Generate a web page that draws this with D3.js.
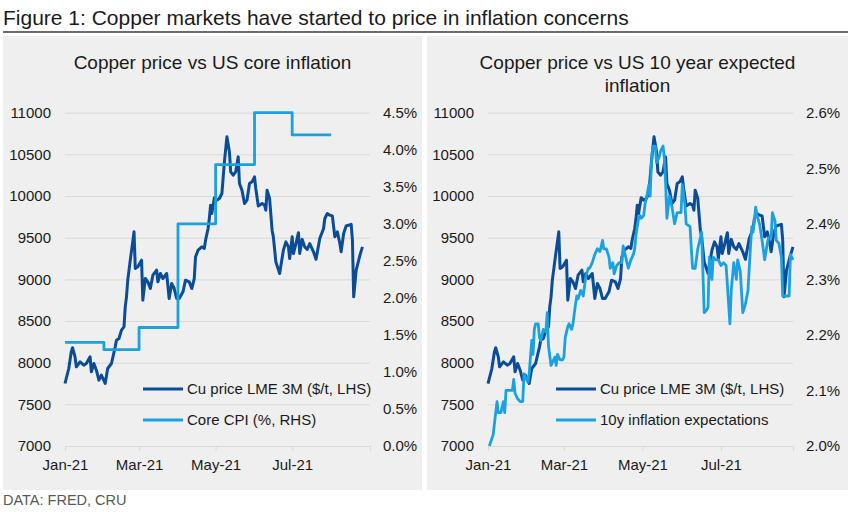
<!DOCTYPE html>
<html>
<head>
<meta charset="utf-8">
<script src="https://cdn.jsdelivr.net/npm/d3@7"></script>
<style>
    body { margin: 0; background: #fff; }
    svg text { font-family: "Liberation Sans", Arial, sans-serif; fill: #1a1a1a; }
</style>
</head>
<body>
<div id="chart"></div>
<script>

// Cu price LME 3M ($/t)
const copperDates = ["2021-01-01","2021-01-04","2021-01-06","2021-01-07","2021-01-09","2021-01-10","2021-01-13","2021-01-16","2021-01-18","2021-01-21",
    "2021-01-22","2021-01-24","2021-01-26","2021-01-28","2021-01-30","2021-02-02","2021-02-04","2021-02-07","2021-02-10","2021-02-11",
    "2021-02-13","2021-02-15","2021-02-17","2021-02-18","2021-02-19","2021-02-20","2021-02-22","2021-02-25","2021-02-26","2021-02-28",
    "2021-03-03","2021-03-04","2021-03-06","2021-03-08","2021-03-10","2021-03-12","2021-03-15","2021-03-16","2021-03-18","2021-03-20",
    "2021-03-23","2021-03-25","2021-03-27","2021-03-29","2021-03-31","2021-04-02","2021-04-05","2021-04-07","2021-04-10","2021-04-12",
    "2021-04-14","2021-04-15","2021-04-17","2021-04-20","2021-04-22","2021-04-23","2021-04-25","2021-04-26","2021-04-27","2021-04-28",
    "2021-04-30","2021-05-02","2021-05-04","2021-05-06","2021-05-08","2021-05-10","2021-05-12","2021-05-13","2021-05-15","2021-05-17",
    "2021-05-19","2021-05-20","2021-05-22","2021-05-24","2021-05-26","2021-05-28","2021-05-30","2021-06-01","2021-06-02","2021-06-04",
    "2021-06-07","2021-06-09","2021-06-10","2021-06-11","2021-06-13","2021-06-15","2021-06-16","2021-06-18","2021-06-21","2021-06-24",
    "2021-06-26","2021-06-28","2021-06-29","2021-07-01","2021-07-02","2021-07-04","2021-07-06","2021-07-07","2021-07-09","2021-07-11",
    "2021-07-13","2021-07-15","2021-07-18","2021-07-20","2021-07-23","2021-07-26","2021-07-27","2021-07-29","2021-07-31","2021-08-02",
    "2021-08-04","2021-08-06","2021-08-08","2021-08-09","2021-08-11","2021-08-13","2021-08-17","2021-08-18","2021-08-19","2021-08-21",
    "2021-08-24","2021-08-26"];
const copperPrice = [7750,7930,8130,8180,8070,7950,8010,7970,7990,8070,
    7890,7990,7910,7790,7850,7750,7930,7990,8190,8270,
    8290,8390,8430,8670,8790,8990,9230,9570,9130,9150,
    9230,8750,9010,8970,8890,9050,9110,8970,9070,9010,
    9070,8770,8950,8890,8770,8770,8850,8990,8970,8890,
    9010,9270,9350,9390,9370,9470,9610,9730,9890,9790,
    9980,9950,9970,10030,10410,10710,10530,10290,10250,10290,
    10470,10150,10070,9910,9950,10150,10170,10230,10090,9880,
    9910,9890,9830,10070,9970,9590,9510,9210,9070,9350,
    9450,9390,9250,9510,9310,9430,9560,9310,9480,9390,
    9360,9430,9330,9240,9490,9610,9730,9790,9770,9760,
    9510,9570,9430,9330,9550,9640,9660,9470,8790,9110,
    9290,9390];

// Core CPI (%, y/y), monthly; the last entry closes the final step
const cpiDates = ["2021-01-01","2021-02-01","2021-03-01","2021-04-01","2021-05-01","2021-06-01","2021-07-01","2021-08-01"];
const cpiValues = [1.4, 1.3, 1.6, 3.0, 3.8, 4.5, 4.2, 4.2];

// 10y inflation expectations (%)
const beDates = ["2021-01-02","2021-01-05","2021-01-07","2021-01-08","2021-01-09","2021-01-11","2021-01-13","2021-01-14","2021-01-15","2021-01-18",
    "2021-01-20","2021-01-21","2021-01-22","2021-01-24","2021-01-26","2021-01-28","2021-01-29","2021-01-30","2021-02-01","2021-02-02",
    "2021-02-04","2021-02-05","2021-02-06","2021-02-07","2021-02-09","2021-02-10","2021-02-11","2021-02-13","2021-02-15","2021-02-16",
    "2021-02-17","2021-02-19","2021-02-20","2021-02-22","2021-02-23","2021-02-24","2021-02-26","2021-02-28","2021-03-01","2021-03-02",
    "2021-03-04","2021-03-05","2021-03-07","2021-03-08","2021-03-10","2021-03-11","2021-03-12","2021-03-14","2021-03-16","2021-03-18",
    "2021-03-20","2021-03-21","2021-03-23","2021-03-25","2021-03-27","2021-03-29","2021-03-31","2021-04-01","2021-04-03","2021-04-05",
    "2021-04-06","2021-04-08","2021-04-09","2021-04-11","2021-04-13","2021-04-15","2021-04-16","2021-04-18","2021-04-20","2021-04-22",
    "2021-04-24","2021-04-25","2021-04-26","2021-04-28","2021-04-29","2021-04-30","2021-05-02","2021-05-03","2021-05-04","2021-05-06",
    "2021-05-07","2021-05-08","2021-05-09","2021-05-11","2021-05-12","2021-05-14","2021-05-15","2021-05-17","2021-05-18","2021-05-19",
    "2021-05-20","2021-05-22","2021-05-24","2021-05-26","2021-05-28","2021-05-31","2021-06-01","2021-06-03","2021-06-04","2021-06-07",
    "2021-06-08","2021-06-09","2021-06-11","2021-06-13","2021-06-16","2021-06-18","2021-06-20","2021-06-21","2021-06-22","2021-06-24",
    "2021-06-25","2021-06-27","2021-06-29","2021-07-01","2021-07-03","2021-07-05","2021-07-08","2021-07-09","2021-07-11","2021-07-13",
    "2021-07-14","2021-07-16","2021-07-18","2021-07-20","2021-07-22","2021-07-24","2021-07-25","2021-07-26","2021-07-28","2021-07-29",
    "2021-07-31","2021-08-02","2021-08-04","2021-08-06","2021-08-07","2021-08-09","2021-08-10","2021-08-12","2021-08-13","2021-08-15",
    "2021-08-17","2021-08-18","2021-08-20","2021-08-23","2021-08-24","2021-08-26"];
const beValues = [2.00,2.02,2.06,2.08,2.06,2.06,2.08,2.06,2.10,2.10,
    2.10,2.12,2.095,2.085,2.08,2.08,2.13,2.125,2.115,2.13,
    2.19,2.165,2.21,2.22,2.22,2.195,2.19,2.21,2.205,2.24,
    2.18,2.145,2.15,2.16,2.145,2.165,2.155,2.155,2.16,2.195,
    2.215,2.22,2.21,2.22,2.255,2.27,2.265,2.28,2.27,2.305,
    2.32,2.32,2.33,2.345,2.355,2.35,2.37,2.355,2.355,2.34,
    2.32,2.33,2.31,2.325,2.33,2.33,2.36,2.34,2.32,2.335,
    2.345,2.355,2.38,2.41,2.415,2.41,2.415,2.435,2.445,2.47,
    2.45,2.51,2.54,2.54,2.51,2.52,2.53,2.54,2.52,2.475,
    2.41,2.45,2.43,2.40,2.42,2.42,2.47,2.435,2.40,2.395,
    2.355,2.32,2.32,2.355,2.385,2.24,2.245,2.25,2.34,2.30,
    2.34,2.335,2.335,2.325,2.33,2.325,2.22,2.28,2.33,2.30,
    2.335,2.315,2.24,2.255,2.28,2.36,2.395,2.385,2.43,2.415,
    2.40,2.37,2.335,2.365,2.375,2.375,2.42,2.405,2.37,2.365,
    2.34,2.27,2.27,2.27,2.345,2.335];

// axis ticks
const priceTicks = [7000, 7500, 8000, 8500, 9000, 9500, 10000, 10500, 11000];
const cpiTicks = [0, 0.5, 1, 1.5, 2, 2.5, 3, 3.5, 4, 4.5];
const beTicks = [2.0, 2.1, 2.2, 2.3, 2.4, 2.5, 2.6];
const monthTickDates = ["2021-01-01", "2021-03-01", "2021-05-01", "2021-07-01"];
const monthTickLabels = ["Jan-21", "Mar-21", "May-21", "Jul-21"];

const parseDate = d3.timeParse("%Y-%m-%d");
const copperData = copperDates.map((d, i) => ({date: parseDate(d), value: copperPrice[i]}));
const cpiData = cpiDates.map((d, i) => ({date: parseDate(d), value: cpiValues[i]}));
const beData = beDates.map((d, i) => ({date: parseDate(d), value: beValues[i]}));

const DARK = "#0b4c97", LIGHT = "#1aa1df", GRID = "#d9d9d9";

let svg = d3.select("#chart").append("svg")
    .attr("width", 850)
    .attr("height", 512);

svg.append("text")
    .attr("x", 3)
    .attr("y", 25)
    .attr("font-size", 21)
    .text("Figure 1: Copper markets have started to price in inflation concerns");

svg.append("line")
    .attr("x1", 3).attr("x2", 848)
    .attr("y1", 32).attr("y2", 32)
    .attr("stroke", "#3a3a3a")
    .attr("stroke-width", 1.5);

svg.append("text")
    .attr("x", 3)
    .attr("y", 505)
    .attr("font-size", 14.5)
    .style("fill", "#595959")
    .text("DATA: FRED, CRU");


class Panel {

    constructor(svg, config) {
        this.svg = svg;
        this.config = config;
        this.initVis();
    }

    initVis() {
        let vis = this;
        let c = vis.config;

        vis.top = 112.7;
        vis.bottom = 446;

        vis.g = vis.svg.append("g");

        vis.g.append("rect")
            .attr("x", c.box[0])
            .attr("y", 36)
            .attr("width", c.box[1] - c.box[0])
            .attr("height", 454)
            .attr("fill", "#efefef");

        c.title.forEach((t, i) => {
            vis.g.append("text")
                .attr("x", (c.box[0] + c.box[1]) / 2)
                .attr("y", 69 + i * 22.5)
                .attr("text-anchor", "middle")
                .attr("font-size", 19)
                .text(t);
        });

        // Scales
        vis.x = d3.scaleTime()
            .domain([parseDate("2021-01-01"), parseDate(c.xEnd)])
            .range([c.left, c.right]);

        vis.y = d3.scaleLinear()
            .domain([7000, 11000])
            .range([vis.bottom, vis.top]);

        vis.y2 = d3.scaleLinear()
            .domain(d3.extent(c.y2Ticks))
            .range([vis.bottom, vis.top]);

        // gridlines
        let grid = vis.g.append("g")
            .attr("transform", "translate(" + c.left + ",0)")
            .call(d3.axisLeft(vis.y)
                .tickValues(priceTicks.slice(1))
                .tickSize(-(c.right - c.left))
                .tickFormat(""));
        grid.select(".domain").remove();
        grid.selectAll("line").attr("stroke", GRID);

        // left axis labels
        let yAxis = vis.g.append("g")
            .attr("transform", "translate(" + c.left + ",0)")
            .call(d3.axisLeft(vis.y)
                .tickValues(priceTicks)
                .tickSize(0)
                .tickPadding(14)
                .tickFormat(d3.format("d")));
        yAxis.select(".domain").remove();

        // right axis labels
        let y2Axis = vis.g.append("g")
            .attr("transform", "translate(" + c.right + ",0)")
            .call(d3.axisRight(vis.y2)
                .tickValues(c.y2Ticks)
                .tickSize(0)
                .tickPadding(13)
                .tickFormat(d => d3.format(".1f")(d) + "%"));
        y2Axis.select(".domain").remove();

        // x axis
        let xAxis = vis.g.append("g")
            .attr("transform", "translate(0," + vis.bottom + ")")
            .call(d3.axisBottom(vis.x)
                .tickValues(monthTickDates.map(parseDate))
                .tickSize(5)
                .tickSizeOuter(5)
                .tickPadding(8)
                .tickFormat((d, i) => monthTickLabels[i]));
        xAxis.select(".domain").attr("stroke", GRID);
        xAxis.selectAll(".tick line").attr("stroke", GRID);

        vis.g.selectAll(".tick text")
            .attr("font-size", 15)
            .attr("font-family", null)
            .attr("fill", null);

        vis.updateVis();
    }

    updateVis() {
        let vis = this;
        let c = vis.config;

        let copperLine = d3.line()
            .x(d => vis.x(d.date))
            .y(d => vis.y(d.value));

        let secondLine = d3.line()
            .curve(c.step ? d3.curveStepAfter : d3.curveLinear)
            .x(d => vis.x(d.date))
            .y(d => vis.y2(d.value));

        vis.g.append("path")
            .datum(copperData)
            .attr("d", copperLine)
            .attr("fill", "none")
            .attr("stroke", DARK)
            .attr("stroke-width", 3)
            .attr("stroke-linejoin", "round");

        vis.g.append("path")
            .datum(c.series)
            .attr("d", secondLine)
            .attr("fill", "none")
            .attr("stroke", LIGHT)
            .attr("stroke-width", 2.8)
            .attr("stroke-linejoin", "round");

        // legend
        let legend = vis.g.append("g");
        [[DARK, "Cu price LME 3M ($/t, LHS)"], [LIGHT, c.seriesName]].forEach((item, i) => {
            let ly = 389 + i * 31;
            legend.append("line")
                .attr("x1", c.legendX).attr("x2", c.legendX + 40)
                .attr("y1", ly).attr("y2", ly)
                .attr("stroke", item[0])
                .attr("stroke-width", 3);
            legend.append("text")
                .attr("x", c.legendX + 44)
                .attr("y", ly + 5.3)
                .attr("font-size", 15)
                .text(item[1]);
        });
    }
}

new Panel(svg, {
    box: [3, 422],
    left: 65, right: 370,
    xEnd: "2021-09-01",
    title: ["Copper price vs US core inflation"],
    y2Ticks: cpiTicks,
    series: cpiData,
    seriesName: "Core CPI (%, RHS)",
    step: true,
    legendX: 143
});

new Panel(svg, {
    box: [427, 848],
    left: 488, right: 793,
    xEnd: "2021-08-26",
    title: ["Copper price vs US 10 year expected", "inflation"],
    y2Ticks: beTicks,
    series: beData,
    seriesName: "10y inflation expectations",
    step: false,
    legendX: 556
});

</script>
</body>
</html>
